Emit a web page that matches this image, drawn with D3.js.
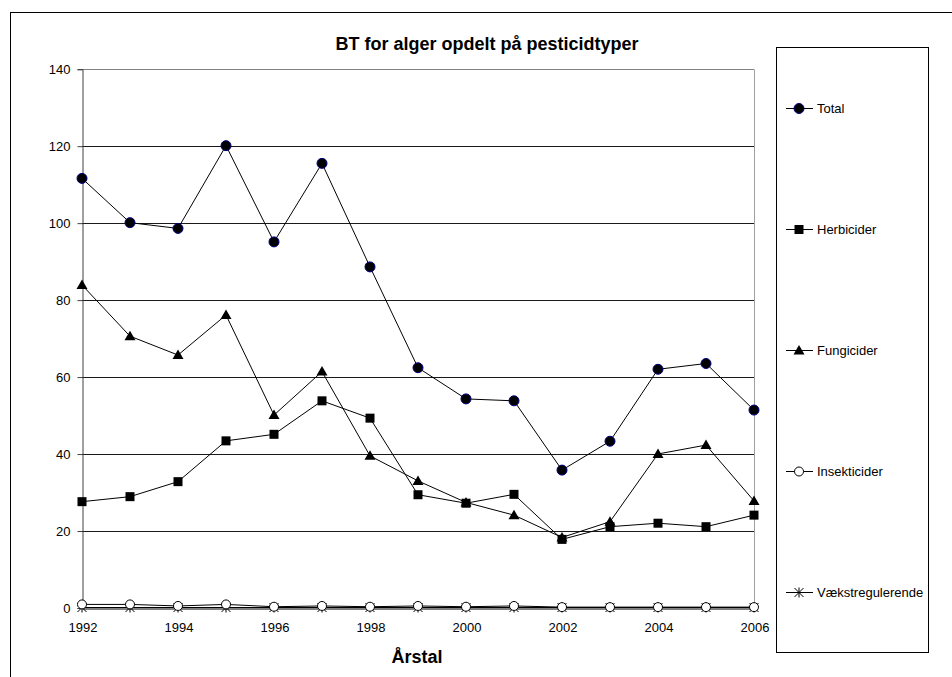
<!DOCTYPE html>
<html>
<head>
<meta charset="utf-8">
<script src="https://cdn.jsdelivr.net/npm/d3@7"></script>
<style>
  body { margin: 0; background: #fff; }
  svg { display: block; font-family: Arial, "Liberation Sans", sans-serif; }
</style>
</head>
<body>
<div id="chart"></div>
<script>
var years = [1992, 1993, 1994, 1995, 1996, 1997, 1998, 1999, 2000, 2001, 2002, 2003, 2004, 2005, 2006];
var total = [111.5, 100.0, 98.5, 120.0, 95.0, 115.4, 88.5, 62.3, 54.2, 53.7, 35.7, 43.2, 61.9, 63.4, 51.3];
var herbicider = [27.5, 28.8, 32.7, 43.3, 45.0, 53.7, 49.2, 29.3, 27.1, 29.4, 17.7, 21.0, 21.9, 21.0, 24.0];
var fungicider = [83.8, 70.5, 65.6, 76.0, 50.0, 61.3, 39.4, 32.9, 27.3, 24.0, 18.2, 22.3, 39.9, 42.2, 27.7];
var insekticider = [0.8, 0.8, 0.4, 0.8, 0.2, 0.4, 0.2, 0.4, 0.2, 0.4, 0.1, 0.1, 0.1, 0.1, 0.1];
var vaekst = [0, 0, 0, 0, 0, 0, 0, 0, 0, 0, 0, 0, 0, 0, 0];
var yTicks = [0, 20, 40, 60, 80, 100, 120, 140];
var xTicks = [1992, 1994, 1996, 1998, 2000, 2002, 2004, 2006];

var series = [
  { name: "Total", values: total, marker: "dot" },
  { name: "Herbicider", values: herbicider, marker: "square" },
  { name: "Fungicider", values: fungicider, marker: "triangle" },
  { name: "Insekticider", values: insekticider, marker: "ring" },
  { name: "Vækstregulerende", values: vaekst, marker: "star" }
];

var W = 952, H = 677;
var plot = { left: 82, right: 754, top: 68.7, bottom: 607.5 };

var svg = d3.select("#chart").append("svg")
  .attr("width", W)
  .attr("height", H);

// outer chart frame (runs off the right and bottom edges)
svg.append("rect")
  .attr("x", 10.5).attr("y", 12.5)
  .attr("width", 1000).attr("height", 700)
  .attr("fill", "none").attr("stroke", "#000");

var x = d3.scaleLinear().domain([1992, 2006]).range([plot.left, plot.right]);
var y = d3.scaleLinear().domain([0, 140]).range([plot.bottom, plot.top]);

// gridlines
svg.append("g")
  .selectAll("line")
  .data(yTicks.filter(function (d) { return d > 0; }))
  .enter()
  .append("line")
  .attr("x1", plot.left).attr("x2", plot.right)
  .attr("y1", function (d) { return Math.round(y(d)) + 0.5; })
  .attr("y2", function (d) { return Math.round(y(d)) + 0.5; })
  .attr("stroke", function (d) { return d === 140 ? "#808080" : "#1a1a1a"; });

// right border of plot area
svg.append("line")
  .attr("x1", Math.round(plot.right) + 0.5).attr("x2", Math.round(plot.right) + 0.5)
  .attr("y1", Math.round(plot.top) + 0.5).attr("y2", plot.bottom)
  .attr("stroke", "#a0a0a0");

// y axis
var yAxis = svg.append("g")
  .attr("transform", "translate(" + (plot.left + 0.5) + ",0.5)")
  .call(d3.axisLeft(y).tickValues(yTicks).tickSize(5).tickPadding(7).tickFormat(d3.format("d")));
yAxis.select(".domain").attr("stroke", "#404040");
yAxis.selectAll(".tick line").attr("stroke", "#404040");
yAxis.selectAll("text").attr("font-size", 13).attr("fill", "#000")
  .attr("font-family", "Arial, 'Liberation Sans', sans-serif");

// x axis
var xAxis = svg.append("g")
  .attr("transform", "translate(0.5," + (Math.round(plot.bottom) + 0.5) + ")")
  .call(d3.axisBottom(x).tickValues(xTicks).tickSize(0).tickPadding(14).tickFormat(d3.format("d")));
xAxis.select(".domain").attr("stroke", "#000");
xAxis.selectAll("text").attr("font-size", 13).attr("fill", "#000")
  .attr("font-family", "Arial, 'Liberation Sans', sans-serif");

// title and axis label
svg.append("text")
  .attr("x", 487).attr("y", 50)
  .attr("text-anchor", "middle")
  .attr("font-size", 18).attr("font-weight", "bold")
  .text("BT for alger opdelt på pesticidtyper");

svg.append("text")
  .attr("x", 417).attr("y", 663)
  .attr("text-anchor", "middle")
  .attr("font-size", 18).attr("font-weight", "bold")
  .text("Årstal");

function drawMarker(g, type) {
  if (type === "dot") {
    g.append("circle").attr("r", 5).attr("fill", "#000").attr("stroke", "#000080").attr("stroke-width", 1);
  } else if (type === "square") {
    g.append("rect").attr("x", -4.5).attr("y", -4.5).attr("width", 9).attr("height", 9).attr("fill", "#000");
  } else if (type === "triangle") {
    g.append("path").attr("d", "M0,-5.5L5.5,4L-5.5,4Z").attr("fill", "#000");
  } else if (type === "ring") {
    g.append("circle").attr("r", 4.5).attr("fill", "#fff").attr("stroke", "#000").attr("stroke-width", 1);
  } else if (type === "star") {
    g.append("path").attr("d", "M-4.5,-4.5L4.5,4.5M-4.5,4.5L4.5,-4.5M0,-5L0,5")
      .attr("stroke", "#000").attr("stroke-width", 1).attr("fill", "none");
  }
}

var line = d3.line()
  .x(function (d) { return x(d.year); })
  .y(function (d) { return y(d.value); });

// draw from bottom series to top so Total sits above
series.slice().reverse().forEach(function (s) {
  var pts = years.map(function (yr, i) { return { year: yr, value: s.values[i] }; });
  var g = svg.append("g");
  g.append("path")
    .datum(pts)
    .attr("d", line)
    .attr("fill", "none")
    .attr("stroke", "#000")
    .attr("stroke-width", 1);
  g.selectAll("g.mk")
    .data(pts)
    .enter()
    .append("g")
    .attr("class", "mk")
    .attr("transform", function (d) { return "translate(" + x(d.year) + "," + y(d.value) + ")"; })
    .each(function () { drawMarker(d3.select(this), s.marker); });
});

// legend
var legend = svg.append("g");
legend.append("rect")
  .attr("x", 776.5).attr("y", 47.5)
  .attr("width", 152).attr("height", 605)
  .attr("fill", "#fff").attr("stroke", "#000");

var legendY = d3.scalePoint().domain(series.map(function (s) { return s.name; })).range([108.5, 592.5]);

series.forEach(function (s) {
  var ly = legendY(s.name);
  var item = legend.append("g").attr("transform", "translate(0," + ly + ")");
  item.append("line").attr("x1", 786).attr("x2", 813).attr("y1", 0).attr("y2", 0).attr("stroke", "#000");
  drawMarker(item.append("g").attr("transform", "translate(799,0)"), s.marker);
  item.append("text")
    .attr("x", 817).attr("y", 0)
    .attr("dy", "0.35em")
    .attr("font-size", 13)
    .text(s.name);
});
</script>
</body>
</html>
